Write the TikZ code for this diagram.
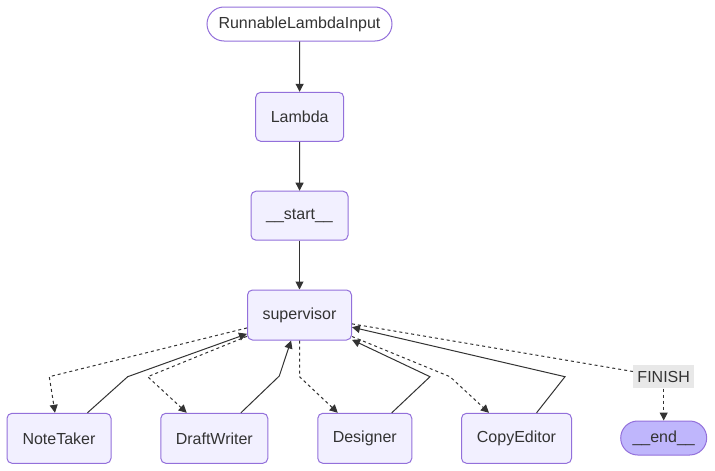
\documentclass[tikz,border=0pt]{standalone}
\usepackage{fontspec}
\setmainfont{Liberation Sans}
\usetikzlibrary{arrows.meta}
\definecolor{nodefill}{HTML}{F2F0FF}
\definecolor{nodeline}{HTML}{9370DB}
\definecolor{endfill}{HTML}{BFB6FC}
\definecolor{edgecol}{HTML}{333333}
\definecolor{txt}{HTML}{333333}
\definecolor{lblfill}{HTML}{E8E8E8}
\begin{document}
\begin{tikzpicture}[x=0.75pt,y=-0.75pt,
  box/.style={draw=nodeline, fill=nodefill, line width=0.75pt, rounded corners=3.75pt,
    minimum height=37.5pt, inner sep=0pt, text=txt, font=\fontsize{12}{14}\selectfont},
  pill/.style={box, rounded corners=12.75pt, minimum height=25.5pt},
  lbl/.style={fill=lblfill, inner sep=0pt, minimum width=45.5pt, minimum height=17.5pt,
    text=txt, font=\fontsize{12}{14}\selectfont},
  solidedge/.style={draw=edgecol, line width=0.75pt, -{Triangle[length=6pt,width=6pt]}},
  dotedge/.style={solidedge, dash pattern=on 2.25pt off 2.25pt},
  dotline/.style={draw=edgecol, line width=0.75pt, dash pattern=on 2.25pt off 2.25pt}]
\fill[white] (0,0) rectangle (715,471);
\useasboundingbox (0,0) rectangle (715,471);

% nodes
\node[pill, fill=white, minimum width=138.75pt] (rli) at (299.5,24) {RunnableLambdaInput};
\node[box, minimum width=66pt, minimum height=36.75pt] (lam) at (299.7,116.8) {Lambda};
\node[box, minimum width=72.75pt, minimum height=36.75pt] (st) at (299.5,215.7) {\_\_start\_\_};
\node[box, minimum width=78pt] (sup) at (299.5,315) {supervisor};
\node[box, minimum width=78pt] (nt) at (59,438.3) {NoteTaker};
\node[box, minimum width=80.25pt] (dw) at (214.3,438.3) {DraftWriter};
\node[box, minimum width=70.5pt] (de) at (364.8,438.3) {Designer};
\node[box, minimum width=82.5pt] (ce) at (516.5,438.3) {CopyEditor};
\node[pill, fill=endfill, minimum width=64.5pt] (en) at (663.7,438) {\_\_end\_\_};
\node[lbl] (fin) at (663.7,376.7) {FINISH};

% bend points
\coordinate (bntd) at (49.3,376.7);
\coordinate (bnts) at (127.7,376.7);
\coordinate (bdwd) at (147.7,376.7);
\coordinate (bdws) at (279.3,376);
\coordinate (bded) at (299.5,376.7);
\coordinate (bdes) at (430,376.7);
\coordinate (bced) at (450,376.7);
\coordinate (bces) at (565,376.7);

% edges
\draw[solidedge] (rli) -- (lam);
\draw[solidedge] (lam) -- (st);
\draw[solidedge] (st) -- (sup);

\draw[dotedge] (sup) -- (bntd) -- (nt);
\draw[solidedge] (nt) -- (bnts) -- (sup);
\draw[dotedge] (sup) -- (bdwd) -- (dw);
\draw[solidedge] (dw) -- (bdws) -- (sup);
\draw[dotedge] (sup) -- (bded) -- (de);
\draw[solidedge] (de) -- (bdes) -- (sup);
\draw[dotedge] (sup) -- (bced) -- (ce);
\draw[solidedge] (ce) -- (bces) -- (sup);
\draw[dotline] (sup) -- (fin);
\draw[dotedge] (fin) -- (en);
\end{tikzpicture}
\end{document}
